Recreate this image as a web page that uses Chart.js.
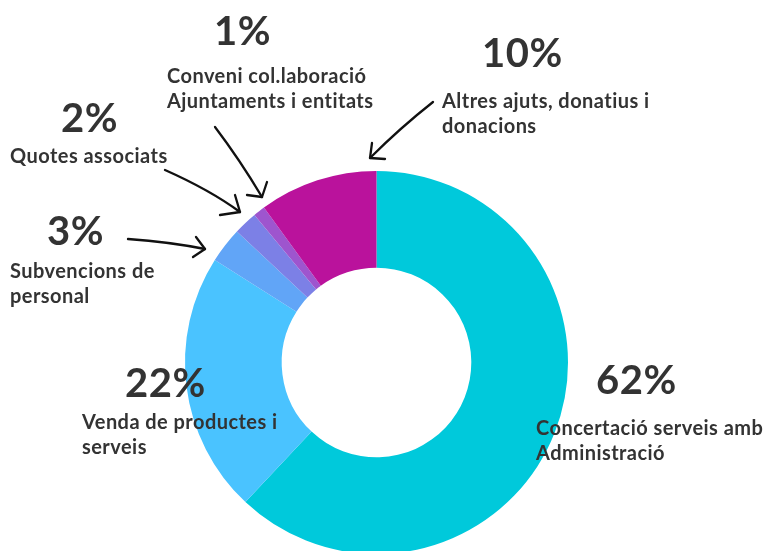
<!DOCTYPE html>
<html>
<head>
<meta charset="utf-8">
<script src="https://cdn.jsdelivr.net/npm/chart.js@4.4.1/dist/chart.umd.min.js"></script>
<style>
  html, body { margin: 0; padding: 0; background: #fff; overflow: hidden; width: 766px; height: 551px; }
  #wrap { position: absolute; left: 0; top: 0; width: 766px; height: 560px; }
  .pct, .lbl { position: absolute; color: #333; font-family: Lato, "Open Sans", sans-serif; white-space: nowrap; }
  .pct { font-weight: bold; font-size: 40px; line-height: 40px; letter-spacing: 0.5px; }
  .lbl { font-weight: bold; font-size: 20px; line-height: 25px; letter-spacing: 0.45px; }
</style>
</head>
<body>
<div id="wrap"><canvas id="myChart"></canvas></div>

<script>
// data
const categories = [
  'Concertació serveis amb Administració',
  'Venda de productes i serveis',
  'Subvencions de personal',
  'Quotes associats',
  'Conveni col.laboració Ajuntaments i entitats',
  'Altres ajuts, donatius i donacions'
];
const values = [62, 22, 3, 2, 1, 10];
const colors = ['#00C9DB', '#4AC3FF', '#61A5F7', '#7C80E6', '#9E55CE', '#BA129C'];

// label placement (html text), index matches categories
const labelLines = [
  ['Concertació serveis amb', 'Administració'],
  ['Venda de productes i', 'serveis'],
  ['Subvencions de', 'personal'],
  ['Quotes associats'],
  ['Conveni col.laboració', 'Ajuntaments i entitats'],
  ['Altres ajuts, donatius i', 'donacions']
];
const pctPos = [[596, 359], [125, 362], [47, 210], [61, 97], [214, 10], [482, 32]];
const lblPos = [[536, 415], [82, 409], [10, 258], [10, 143], [167, 63], [442, 88]];

const wrap = document.getElementById('wrap');
values.forEach((v, i) => {
  let p = document.createElement('div');
  p.className = 'pct';
  p.style.left = pctPos[i][0] + 'px';
  p.style.top = pctPos[i][1] + 'px';
  p.textContent = v + '%';
  wrap.appendChild(p);
  let l = document.createElement('div');
  l.className = 'lbl';
  l.style.left = lblPos[i][0] + 'px';
  l.style.top = lblPos[i][1] + 'px';
  l.innerHTML = labelLines[i].join('<br>');
  wrap.appendChild(l);
});

// hand drawn style arrows: [start, control, tip, barb1, barb2]
const arrows = [
  [[433, 102], [400, 128], [370, 158], [372, 143], [385, 159]],
  [[215, 127], [240, 160], [262, 197], [267, 182], [247, 195]],
  [[165, 170], [210, 190], [240, 212], [235, 195], [220, 215]],
  [[128, 239], [170, 242], [205, 249], [196, 237], [193, 257]]
];

const arrowPlugin = {
  id: 'arrows',
  afterDraw(chart) {
    const ctx = chart.ctx;
    ctx.save();
    ctx.strokeStyle = '#111';
    ctx.lineWidth = 2.3;
    ctx.lineCap = 'round';
    ctx.lineJoin = 'round';
    arrows.forEach(a => {
      ctx.beginPath();
      ctx.moveTo(a[0][0], a[0][1]);
      ctx.quadraticCurveTo(a[1][0], a[1][1], a[2][0], a[2][1]);
      ctx.stroke();
      ctx.beginPath();
      ctx.moveTo(a[3][0], a[3][1]);
      ctx.lineTo(a[2][0], a[2][1]);
      ctx.lineTo(a[4][0], a[4][1]);
      ctx.stroke();
    });
    ctx.restore();
  }
};

const chartArea = document.getElementById('myChart');
const config = {
  type: 'doughnut',
  data: {
    labels: categories,
    datasets: [{
      data: values,
      backgroundColor: colors,
      borderWidth: 0
    }]
  },
  options: {
    responsive: true,
    maintainAspectRatio: false,
    animation: false,
    cutout: '49.5%',
    layout: { padding: { left: 185, right: 198, top: 171, bottom: 6 } },
    plugins: {
      legend: { display: false },
      tooltip: { enabled: false }
    }
  },
  plugins: [arrowPlugin]
};
new Chart(chartArea, config);
</script>
</body>
</html>
